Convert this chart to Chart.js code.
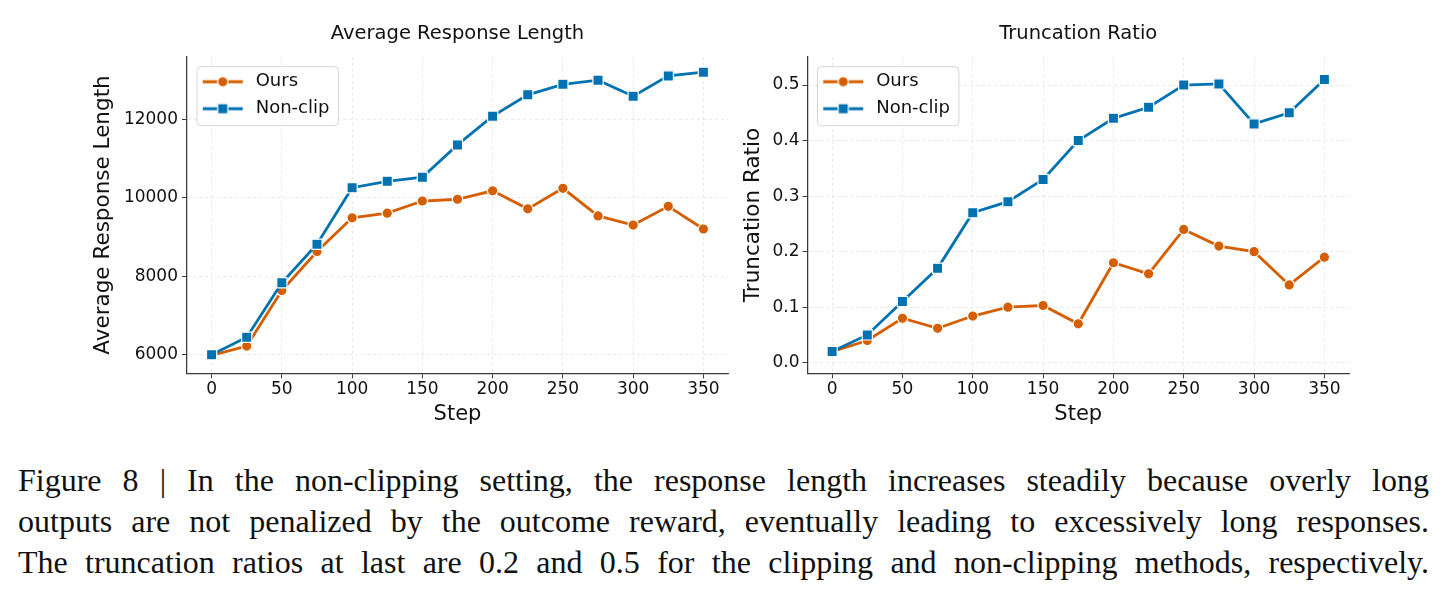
<!DOCTYPE html>
<html><head><meta charset="utf-8">
<script src="https://cdn.jsdelivr.net/npm/chart.js@4"></script>
<style>
html,body{margin:0;padding:0;background:#fff;width:1449px;height:597px;overflow:hidden;}
#c1{position:absolute;left:0;top:0;display:block;}
#c2{position:absolute;left:740px;top:0;display:block;}
#caption{position:absolute;left:18px;top:460px;width:1411px;font-family:'Liberation Serif';font-size:32px;line-height:41px;color:#111;}
.ln{text-align:justify;text-align-last:justify;}
</style></head><body>
<canvas id="c1" width="740" height="440"></canvas>
<canvas id="c2" width="709" height="440"></canvas>
<div id="caption">
<div class="ln">Figure 8 | In the non-clipping setting, the response length increases steadily because overly long</div>
<div class="ln">outputs are not penalized by the outcome reward, eventually leading to excessively long responses.</div>
<div class="ln">The truncation ratios at last are 0.2 and 0.5 for the clipping and non-clipping methods, respectively.</div>
</div>
<script>
// ---- data ----
const steps = [0, 25, 50, 75, 100, 125, 150, 175, 200, 225, 250, 275, 300, 325, 350];
const seriesNames = ['Ours', 'Non-clip'];
const lengthOurs = [5970, 6210, 7630, 8630, 9490, 9610, 9920, 9965, 10180, 9720, 10245, 9540, 9305, 9785, 9205];
const lengthNonclip = [5990, 6435, 7830, 8815, 10260, 10425, 10530, 11355, 12090, 12635, 12905, 13010, 12600, 13120, 13215];
const truncOurs = [0.02, 0.04, 0.08, 0.062, 0.084, 0.100, 0.103, 0.07, 0.18, 0.16, 0.24, 0.21, 0.20, 0.14, 0.19];
const truncNonclip = [0.02, 0.05, 0.11, 0.17, 0.27, 0.29, 0.33, 0.40, 0.44, 0.46, 0.50, 0.502, 0.43, 0.45, 0.51];
const xTicks = [0, 50, 100, 150, 200, 250, 300, 350];
const lengthTicks = [6000, 8000, 10000, 12000];
const truncTicks = [0.0, 0.1, 0.2, 0.3, 0.4, 0.5];

const ORANGE = '#D55E00';
const BLUE = '#0072B2';
const AX = '#3a3a3a';
const GRID = 'rgba(0,0,0,0.11)';
const FONT = 'DejaVu Sans';
const TXT = '#111111';
const CIRCLE_R = 5.2;
const RECT_R = 7.2;
const LINE_W = 2.8;

function makeIcon(color, shape) {
  const c = document.createElement('canvas');
  c.width = 48; c.height = 16;
  const g = c.getContext('2d');
  g.strokeStyle = color; g.lineWidth = LINE_W;
  g.beginPath(); g.moveTo(4, 8); g.lineTo(44, 8); g.stroke();
  g.fillStyle = color; g.strokeStyle = '#fff'; g.lineWidth = 1.2;
  g.beginPath();
  if (shape === 'circle') g.arc(24, 8, CIRCLE_R, 0, Math.PI * 2);
  else { const h = RECT_R * Math.SQRT1_2; g.rect(24 - h, 8 - h, 2 * h, 2 * h); }
  g.fill(); g.stroke();
  return c;
}
const icons = [makeIcon(ORANGE, 'circle'), makeIcon(BLUE, 'rect')];

const legendFramePlugin = {
  id: 'legendFrame',
  afterLayout(chart) {
    const lg = chart.legend;
    if (!lg || lg._framed) return;
    lg._framed = true;
    const orig = lg.draw.bind(lg);
    lg.draw = function () {
      const hb = lg.legendHitBoxes;
      if (!hb || !hb.length) { orig(); return; }
      const ca = chart.chartArea;
      const dx = ca.left + 11.7 - hb[0].left;
      const dy = ca.top + 16 - hb[0].top;
      const ctx = chart.ctx;
      const right = Math.max(...hb.map(h => h.left + h.width)) + dx + 9;
      const last = hb[hb.length - 1];
      const bottom = last.top + last.height + dy + 8;
      const left = ca.left + 10, top = ca.top + 10;
      ctx.save();
      ctx.beginPath();
      ctx.roundRect(left, top, right - left, bottom - top, 4);
      ctx.fillStyle = 'rgba(255,255,255,0.85)';
      ctx.fill();
      ctx.strokeStyle = '#d6d6d6';
      ctx.lineWidth = 1;
      ctx.stroke();
      ctx.translate(dx, dy);
      orig();
      ctx.restore();
    };
  }
};

function makeChart(canvas, cfg) {
  return new Chart(canvas, {
    type: 'line',
    data: {
      labels: steps,
      datasets: [
        { label: seriesNames[0], data: cfg.ours, borderColor: ORANGE, backgroundColor: ORANGE,
          pointStyle: 'circle', pointRadius: CIRCLE_R, pointHoverRadius: CIRCLE_R, pointBackgroundColor: ORANGE,
          pointBorderColor: '#fff', pointBorderWidth: 1.2, borderWidth: LINE_W, tension: 0, order: 1 },
        { label: seriesNames[1], data: cfg.nonclip, borderColor: BLUE, backgroundColor: BLUE,
          pointStyle: 'rect', pointRadius: RECT_R, pointHoverRadius: RECT_R, pointBackgroundColor: BLUE,
          pointBorderColor: '#fff', pointBorderWidth: 1.2, borderWidth: LINE_W, tension: 0, order: 0 }
      ]
    },
    options: {
      responsive: false, animation: false, devicePixelRatio: 1,
      layout: { padding: { left: 0, right: cfg.padRight, top: 0, bottom: 0 } },
      plugins: {
        tooltip: { enabled: false },
        title: { display: false },
        legend: {
          position: 'chartArea', align: 'start',
          labels: {
            usePointStyle: true, pointStyleWidth: 48, padding: 9,
            font: { family: FONT, size: 18 }, color: TXT,
            generateLabels: (chart) => chart.data.datasets.map((ds, i) => ({
              text: ds.label, pointStyle: icons[i], fillStyle: ds.borderColor,
              strokeStyle: ds.borderColor, lineWidth: 0, hidden: false, datasetIndex: i, fontColor: TXT
            }))
          }
        }
      },
      scales: {
        x: {
          type: 'linear', position: 'bottom', min: -17.5, max: 367.5,
          afterBuildTicks: s => { s.ticks = xTicks.map(v => ({ value: v })); },
          afterFit: s => { s.height = 66.7; },
          grid: { color: GRID, lineWidth: 0.8, tickLength: 5, tickColor: AX, tickWidth: 1 },
          border: { display: true, color: AX, width: 1.25, dash: [3, 3] },
          ticks: { font: { family: FONT, size: 17 }, color: TXT, padding: 1, maxRotation: 0, callback: v => String(v) },
          title: { display: true, text: 'Step', font: { family: FONT, size: 21 }, color: TXT, padding: { top: 0, bottom: 12.7 } }
        },
        xTop: {
          type: 'linear', position: 'top', min: -17.5, max: 367.5, display: true,
          afterFit: s => { s.height = 56.7; },
          grid: { display: false, drawTicks: false },
          border: { display: false },
          ticks: { display: false },
          title: { display: true, text: cfg.title, font: { family: FONT, size: 19.5 }, color: TXT, padding: { top: 22.6, bottom: 0 } }
        },
        y: {
          type: 'linear', position: 'left', min: cfg.yMin, max: cfg.yMax,
          afterBuildTicks: s => { s.ticks = cfg.yTicks.map(v => ({ value: v })); },
          afterFit: s => { s.width = cfg.yWidth; },
          grid: { color: GRID, lineWidth: 0.8, tickLength: 5, tickColor: AX, tickWidth: 1 },
          border: { display: true, color: AX, width: 1.25, dash: [3, 3] },
          ticks: { font: { family: FONT, size: 17 }, color: TXT, padding: cfg.yTickPad, callback: cfg.fmt },
          title: { display: true, text: cfg.yLabel, font: { family: FONT, size: 21.5 }, color: TXT, padding: { top: cfg.yTitlePad, bottom: 0 } }
        }
      }
    },
    plugins: [legendFramePlugin]
  });
}

makeChart(document.getElementById('c1'), {
  ours: lengthOurs, nonclip: lengthNonclip, title: 'Average Response Length', yLabel: 'Average Response Length',
  yMin: 5514, yMax: 13611, yTicks: lengthTicks, yWidth: 187, yTickPad: 4, yTitlePad: 90.1, padRight: 12,
  fmt: v => String(v)
});
makeChart(document.getElementById('c2'), {
  ours: truncOurs, nonclip: truncNonclip, title: 'Truncation Ratio', yLabel: 'Truncation Ratio',
  yMin: -0.0191, yMax: 0.551, yTicks: truncTicks, yWidth: 67.5, yTickPad: 3, yTitlePad: 0.6, padRight: 100,
  fmt: v => Number(v).toFixed(1)
});
</script>
</body></html>
